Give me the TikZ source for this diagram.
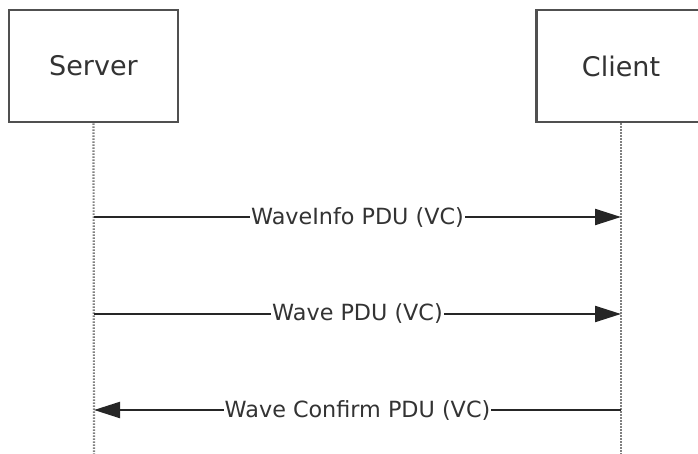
\documentclass[tikz,border=0pt]{standalone}
\usepackage{fontspec}
\setmainfont{DejaVu Sans}
\usetikzlibrary{arrows.meta}
\definecolor{boxline}{HTML}{505050}
\definecolor{txt}{HTML}{333333}
\begin{document}
\begin{tikzpicture}[x=1pt,y=-1pt,
  actor/.style={draw=boxline,line width=2.6pt,fill=white,minimum width=169pt,minimum height=112pt,inner sep=0pt,text=txt,font=\fontsize{27}{31}\selectfont},
  lifeline/.style={draw=gray,line width=2.2pt,dash pattern=on 1.6pt off 1.4pt},
  msg/.style={draw=black!85,line width=2.2pt,-{Triangle[length=26pt,width=16pt]}},
  lbl/.style={fill=white,inner sep=1pt,text=txt,font=\fontsize{22.3}{25}\selectfont}]
\useasboundingbox (0,0) rectangle (698,454);
\begin{scope}
\clip (0,0) rectangle (698,454);
\node[actor] (srv) at (93.5,66) {Server};
\node[actor] (cli) at (621,66) {Client};
\coordinate (sb) at (94,454);
\coordinate (cb) at (621,454);
\draw[lifeline] (srv.south) -- (sb);
\draw[lifeline] (cli.south) -- (cb);
\coordinate (s1) at (94,217); \coordinate (c1) at (621,217);
\coordinate (s2) at (94,314); \coordinate (c2) at (621,314);
\coordinate (s3) at (94,410); \coordinate (c3) at (621,410);
\draw[msg] (s1) -- node[lbl] (m1) {WaveInfo PDU (VC)} (c1);
\draw[msg] (s2) -- node[lbl] (m2) {Wave PDU (VC)} (c2);
\draw[msg] (c3) -- node[lbl] (m3) {Wave Confirm PDU (VC)} (s3);
\end{scope}
\end{tikzpicture}
\end{document}
